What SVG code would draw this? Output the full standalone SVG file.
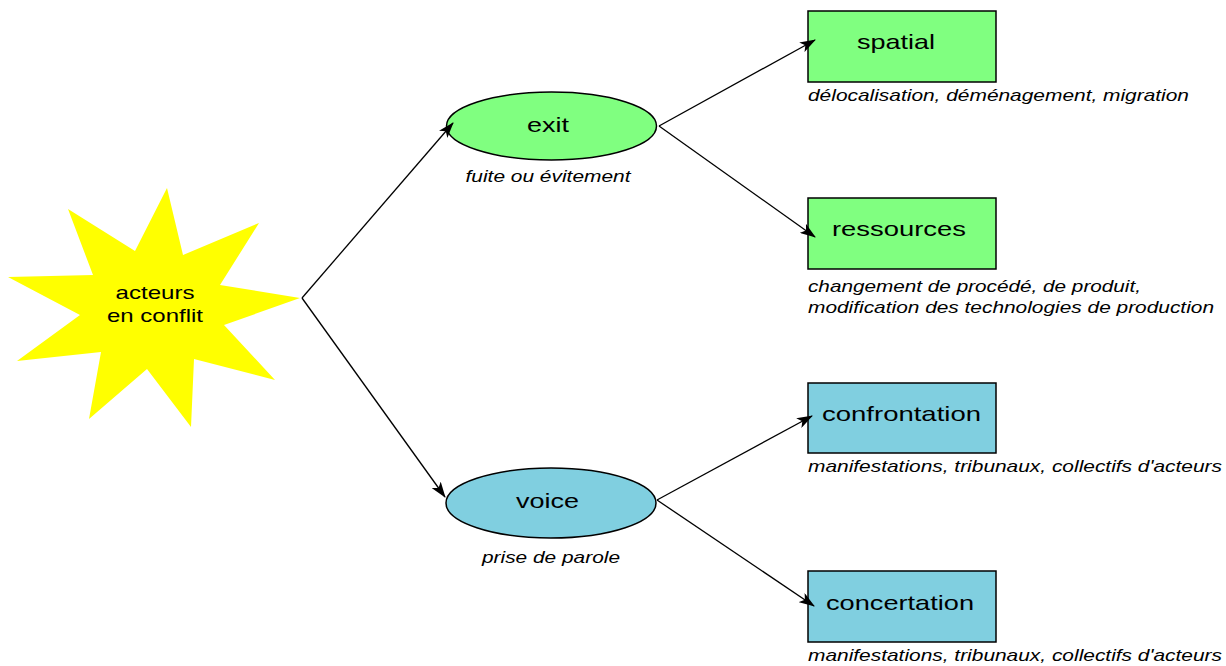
<svg xmlns="http://www.w3.org/2000/svg" width="1226" height="666" viewBox="0 0 1226 666">
<style>
.lbl{font-family:"Liberation Sans",Arial,sans-serif;font-size:21px;fill:#000;text-anchor:middle}
.cap{font-family:"Liberation Sans",Arial,sans-serif;font-size:17px;font-style:italic;fill:#000}
.g{fill:#80FF80;stroke:#000;stroke-width:1.5}
.b{fill:#80CFE0;stroke:#000;stroke-width:1.5}
.c{stroke:#000;stroke-width:1.3;fill:none;marker-end:url(#ah)}
</style>
<defs>
<marker id="ah" viewBox="0 0 16 11" refX="15" refY="5.5" markerWidth="16" markerHeight="11" markerUnits="userSpaceOnUse" orient="auto">
<path d="M0,0 L16,5.5 L0,11 L4,5.5 z" fill="#000"/>
</marker>
</defs>
<rect width="1226" height="666" fill="#fff"/>
<g id="acteurs">
<polygon points="167,188 183,255 259,223 220,285 300,298 224,325 275,380 194,359 191,427 147,369 89,419 101,352 17,361 80,315 8,277 93,275 68,209 135,251" fill="#FFFF00"/>
<text class="lbl" x="155" y="299" textLength="79" lengthAdjust="spacingAndGlyphs" style="font-size:19px">acteurs</text>
<text class="lbl" x="155" y="322" textLength="96" lengthAdjust="spacingAndGlyphs" style="font-size:19px">en conflit</text>
</g>
<g id="exit">
<ellipse class="g" cx="551.5" cy="126" rx="105" ry="34"/>
<text class="lbl" x="548" y="132" textLength="42" lengthAdjust="spacingAndGlyphs">exit</text>
<text class="cap" x="548" y="182" text-anchor="middle" textLength="165" lengthAdjust="spacingAndGlyphs">fuite ou évitement</text>
</g>
<g id="voice">
<ellipse class="b" cx="551" cy="503" rx="105" ry="35"/>
<text class="lbl" x="547.5" y="508" textLength="63" lengthAdjust="spacingAndGlyphs">voice</text>
<text class="cap" x="551" y="563" text-anchor="middle" textLength="138" lengthAdjust="spacingAndGlyphs">prise de parole</text>
</g>
<g id="spatial">
<rect class="g" x="808" y="11" width="188" height="71"/>
<text class="lbl" x="896" y="49" textLength="78" lengthAdjust="spacingAndGlyphs">spatial</text>
<text class="cap" x="808" y="101" textLength="381" lengthAdjust="spacingAndGlyphs">délocalisation, déménagement, migration</text>
</g>
<g id="ressources">
<rect class="g" x="808" y="198" width="188" height="71"/>
<text class="lbl" x="899" y="236" textLength="134" lengthAdjust="spacingAndGlyphs">ressources</text>
<text class="cap" x="808" y="292" textLength="333" lengthAdjust="spacingAndGlyphs">changement de procédé, de produit,</text>
<text class="cap" x="808" y="313" textLength="406" lengthAdjust="spacingAndGlyphs">modification des technologies de production</text>
</g>
<g id="confrontation">
<rect class="b" x="808" y="383" width="188" height="70"/>
<text class="lbl" x="901.5" y="421" textLength="159" lengthAdjust="spacingAndGlyphs">confrontation</text>
<text class="cap" x="808" y="472" textLength="414" lengthAdjust="spacingAndGlyphs">manifestations, tribunaux, collectifs d'acteurs</text>
</g>
<g id="concertation">
<rect class="b" x="808" y="571" width="188" height="71"/>
<text class="lbl" x="900" y="610" textLength="148" lengthAdjust="spacingAndGlyphs">concertation</text>
<text class="cap" x="808" y="661" textLength="414" lengthAdjust="spacingAndGlyphs">manifestations, tribunaux, collectifs d'acteurs</text>
</g>
<g id="connectors">
<path class="c" d="M302,298 L453,123"/>
<path class="c" d="M302,298 L445,497"/>
<path class="c" d="M659,126 L815,40"/>
<path class="c" d="M659,126 L815,237"/>
<path class="c" d="M657,500 L812,416"/>
<path class="c" d="M657,500 L814,606"/>
</g>
</svg>
